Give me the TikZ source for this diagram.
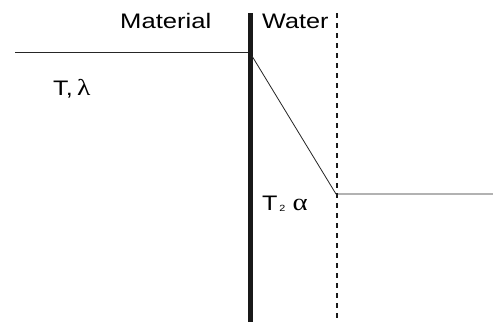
\documentclass[tikz,border=0pt]{standalone}
\usepackage{fontspec}
\setmainfont{Liberation Sans}
\newfontfamily\greekfont{Liberation Serif}
\begin{document}
\begin{tikzpicture}[x=1pt,y=-1pt,
  lbl/.style={inner sep=0pt,anchor=base west,font=\fontsize{21}{21}\selectfont},
  thin line/.style={line width=0.8pt,black!85},
  wall/.style={line width=5pt,black!90},
  dotline/.style={line width=2.5pt,black!90,dash pattern=on 5pt off 5pt}]
\useasboundingbox (0,0) rectangle (493,322);
\coordinate (wtop) at (250.5,13);
\coordinate (wbot) at (250.5,322);
\coordinate (dtop) at (337,13);
\coordinate (dbot) at (337,322);
\coordinate (l0) at (15,52);
\coordinate (l1) at (248,52);
\coordinate (d0) at (252,56);
\coordinate (d1) at (336,194);
\coordinate (r1) at (493,194);
\draw[wall] (wtop) -- (wbot);
\draw[dotline] (dtop) -- (dbot);
\draw[thin line] (l0) -- (l1);
\draw[thin line] (d0) -- (d1) -- (r1);
\node[lbl] (mat) at (120,28) {\scalebox{1.22}[1]{Material}};
\node[lbl] (wat) at (262,28) {\scalebox{1.2}[1]{Water}};
\node[lbl] (tl) at (53,95) {\scalebox{1.2}[1]{T,\,{\greekfont\fontsize{23}{23}\selectfont λ}}};
\node[lbl] (t2) at (262,210) {\scalebox{1.2}[1]{T\raisebox{-1pt}{\fontsize{9}{9}\selectfont\,2}\hspace{6pt}{\greekfont\fontsize{24}{24}\selectfont α}}};
\end{tikzpicture}
\end{document}
